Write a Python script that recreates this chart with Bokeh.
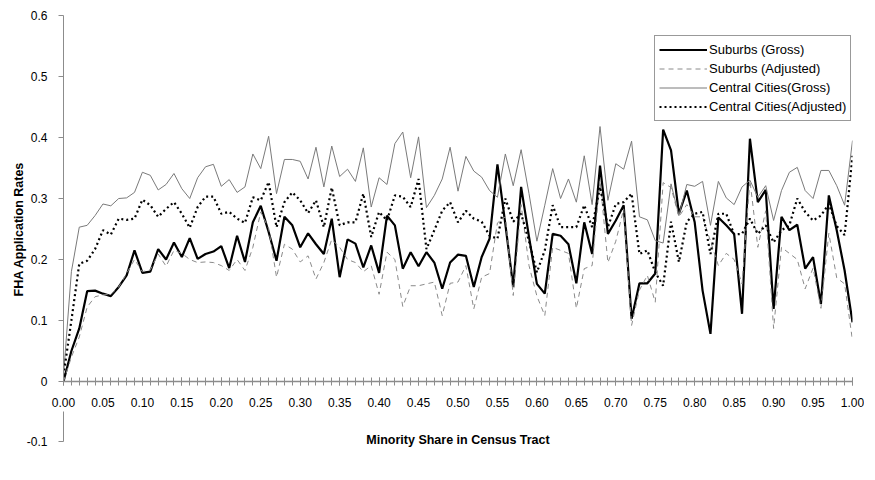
from bokeh.plotting import figure
from bokeh.layouts import column
from bokeh.models import Range1d, FixedTicker, CustomJSTickFormatter, Legend, LegendItem, Label, Title
from bokeh.embed import file_html
from bokeh.resources import INLINE

# categories: minority share 0.00 .. 1.00
categories = [round(i / 100, 2) for i in range(101)]
x_major_ticks = [0.0, 0.05, 0.1, 0.15, 0.2, 0.25, 0.3, 0.35, 0.4, 0.45, 0.5,
                 0.55, 0.6, 0.65, 0.7, 0.75, 0.8, 0.85, 0.9, 0.95, 1.0]
y_ticks = [0, 0.1, 0.2, 0.3, 0.4, 0.5, 0.6]
y_low_tick = [-0.1]

suburbs_gross = [0.0,
    0.05, 0.087, 0.148, 0.149, 0.144, 0.14, 0.155, 0.174, 0.215, 0.178,
    0.18, 0.217, 0.2, 0.228, 0.204, 0.235, 0.201, 0.209, 0.213, 0.222,
    0.186, 0.239, 0.196, 0.261, 0.288, 0.245, 0.198, 0.27, 0.256, 0.22,
    0.243, 0.225, 0.209, 0.267, 0.171, 0.233, 0.226, 0.187, 0.223, 0.178,
    0.272, 0.256, 0.185, 0.212, 0.189, 0.212, 0.195, 0.152, 0.195, 0.208,
    0.206, 0.155, 0.204, 0.234, 0.356, 0.258, 0.155, 0.319, 0.237, 0.16,
    0.144, 0.242, 0.239, 0.225, 0.161, 0.261, 0.209, 0.354, 0.242, 0.264,
    0.289, 0.103, 0.161, 0.161, 0.177, 0.413, 0.379, 0.275, 0.313, 0.261,
    0.149, 0.078, 0.269, 0.256, 0.242, 0.111, 0.398, 0.294, 0.314, 0.119,
    0.27, 0.248, 0.257, 0.185, 0.204, 0.127, 0.305, 0.248, 0.182, 0.097]

suburbs_adjusted = [0.0,
    0.04, 0.073, 0.122, 0.139, 0.142, 0.143, 0.155, 0.177, 0.2, 0.18,
    0.183, 0.209, 0.189, 0.215, 0.21, 0.2, 0.195, 0.196, 0.195, 0.19,
    0.182, 0.2, 0.182, 0.22, 0.278, 0.251, 0.171, 0.225, 0.217, 0.196,
    0.206, 0.168, 0.195, 0.233, 0.22, 0.2, 0.195, 0.18, 0.19, 0.143,
    0.212, 0.2, 0.123, 0.157, 0.157, 0.16, 0.163, 0.108, 0.161, 0.163,
    0.19, 0.119, 0.171, 0.177, 0.26, 0.27, 0.141, 0.29, 0.19, 0.14,
    0.108, 0.22, 0.215, 0.21, 0.12, 0.185, 0.19, 0.33, 0.195, 0.23,
    0.283, 0.092, 0.15, 0.174, 0.13, 0.326, 0.318, 0.27, 0.29, 0.27,
    0.27, 0.23, 0.19, 0.21, 0.2, 0.16, 0.33, 0.22, 0.28, 0.087,
    0.22, 0.21, 0.2, 0.152, 0.186, 0.12, 0.243, 0.17, 0.16, 0.067]

central_gross = [0.01,
    0.18, 0.253, 0.256, 0.272, 0.291, 0.288, 0.3, 0.301, 0.31, 0.343,
    0.338, 0.314, 0.323, 0.341, 0.316, 0.3, 0.334, 0.352, 0.356, 0.32,
    0.331, 0.31, 0.319, 0.373, 0.349, 0.402, 0.308, 0.364, 0.364, 0.361,
    0.332, 0.384, 0.319, 0.386, 0.336, 0.348, 0.328, 0.383, 0.286, 0.334,
    0.323, 0.39, 0.409, 0.334, 0.401, 0.285, 0.305, 0.332, 0.384, 0.312,
    0.369, 0.345, 0.335, 0.313, 0.302, 0.373, 0.321, 0.38, 0.308, 0.23,
    0.289, 0.349, 0.3, 0.332, 0.294, 0.37, 0.29, 0.418, 0.297, 0.357,
    0.348, 0.394, 0.27, 0.265, 0.231, 0.227, 0.324, 0.272, 0.323, 0.32,
    0.328, 0.256, 0.328, 0.301, 0.29, 0.319, 0.33, 0.302, 0.321, 0.264,
    0.313, 0.343, 0.351, 0.313, 0.3, 0.346, 0.346, 0.321, 0.289, 0.395]

central_adjusted = [0.01,
    0.1, 0.193, 0.198, 0.217, 0.248, 0.241, 0.267, 0.265, 0.267, 0.298,
    0.289, 0.27, 0.283, 0.294, 0.275, 0.252, 0.286, 0.303, 0.303, 0.275,
    0.278, 0.267, 0.26, 0.302, 0.297, 0.327, 0.253, 0.294, 0.31, 0.297,
    0.276, 0.297, 0.253, 0.318, 0.256, 0.261, 0.261, 0.308, 0.237, 0.278,
    0.264, 0.305, 0.303, 0.286, 0.332, 0.217, 0.248, 0.28, 0.294, 0.261,
    0.28, 0.267, 0.262, 0.239, 0.234, 0.3, 0.262, 0.275, 0.23, 0.179,
    0.215, 0.289, 0.253, 0.253, 0.253, 0.289, 0.253, 0.319, 0.253, 0.291,
    0.294, 0.308, 0.209, 0.215, 0.179, 0.157, 0.262, 0.196, 0.262, 0.275,
    0.278, 0.209, 0.275, 0.275, 0.241, 0.242, 0.267, 0.242, 0.256, 0.228,
    0.248, 0.256, 0.3, 0.278, 0.264, 0.272, 0.291, 0.255, 0.24, 0.37]

FONT = "Liberation Sans"
AXIS_GRAY = "#8c8c8c"

# ---------- main panel (y from 0 to 0.6, x axis at y = 0) ----------
p = figure(frame_width=789, frame_height=366, output_backend="svg",
           toolbar_location=None, x_range=Range1d(0, 1), y_range=Range1d(0, 0.6),
           min_border_left=63, min_border_right=12, min_border_top=15,
           min_border_bottom=30)
p.outline_line_color = None
p.xgrid.grid_line_color = None
p.ygrid.grid_line_color = None

r1 = p.line(categories, suburbs_gross, line_color="black", line_width=2.2)
r2 = p.line(categories, suburbs_adjusted, line_color="#8a8a8a", line_width=1,
            line_dash="5 4")
r3 = p.line(categories, central_gross, line_color="#7a7a7a", line_width=1)
r4 = p.line(categories, central_adjusted, line_color="black", line_width=2.2,
            line_dash="2 3")

xa = p.xaxis[0]
xa.ticker = FixedTicker(ticks=x_major_ticks, minor_ticks=categories)
xa.formatter = CustomJSTickFormatter(code="return tick.toFixed(2);")
xa.axis_line_color = AXIS_GRAY
xa.axis_line_width = 1.5
xa.major_tick_line_color = AXIS_GRAY
xa.minor_tick_line_color = AXIS_GRAY
xa.major_tick_in = 4
xa.major_tick_out = 4
xa.minor_tick_in = 4
xa.minor_tick_out = 4
xa.major_label_standoff = 12
xa.major_label_text_font = FONT
xa.major_label_text_font_size = "12px"
xa.major_label_text_color = "black"

ya = p.yaxis[0]
ya.ticker = FixedTicker(ticks=y_ticks, minor_ticks=[])
ya.formatter = CustomJSTickFormatter(code="return tick === 0 ? '0' : tick.toFixed(1);")
ya.axis_line_color = AXIS_GRAY
ya.major_tick_line_color = AXIS_GRAY
ya.major_tick_in = 0
ya.major_tick_out = 5
ya.minor_tick_in = 0
ya.minor_tick_out = 0
ya.major_label_standoff = 11
ya.major_label_text_font = FONT
ya.major_label_text_font_size = "12px"
ya.major_label_text_color = "black"

p.add_layout(Title(text="FHA Application Rates", align="left", offset=85,
                   text_font=FONT, text_font_style="bold", text_font_size="12.5px",
                   text_color="black", standoff=4), "left")

legend = Legend(items=[
    LegendItem(label="Suburbs (Gross)", renderers=[r1]),
    LegendItem(label="Suburbs (Adjusted)", renderers=[r2]),
    LegendItem(label="Central Cities(Gross)", renderers=[r3]),
    LegendItem(label="Central Cities(Adjusted)", renderers=[r4]),
], location=(591, 260))
legend.label_text_font = FONT
legend.label_text_font_size = "13px"
legend.label_text_color = "black"
legend.glyph_width = 48
legend.glyph_height = 19
legend.label_height = 19
legend.label_standoff = 2
legend.spacing = 0
legend.padding = 4
legend.margin = 0
legend.border_line_color = "#333333"
legend.border_line_width = 1
legend.background_fill_color = "white"
legend.background_fill_alpha = 1
p.add_layout(legend)

# ---------- lower strip: y axis continued down to -0.1, x axis title ----------
q = figure(frame_width=789, frame_height=37, output_backend="svg",
           toolbar_location=None, x_range=p.x_range,
           y_range=Range1d(-0.1115, -0.0508), x_axis_location=None,
           min_border_left=63, min_border_right=12, min_border_top=0,
           min_border_bottom=0)
q.outline_line_color = None
q.xgrid.grid_line_color = None
q.ygrid.grid_line_color = None
qa = q.yaxis[0]
qa.ticker = FixedTicker(ticks=y_low_tick, minor_ticks=[])
qa.formatter = CustomJSTickFormatter(code="return tick.toFixed(1);")
qa.bounds = (-0.1, 0)
qa.axis_line_color = AXIS_GRAY
qa.major_tick_line_color = AXIS_GRAY
qa.major_tick_in = 0
qa.major_tick_out = 5
qa.minor_tick_in = 0
qa.minor_tick_out = 0
qa.major_label_standoff = 11
qa.major_label_text_font = FONT
qa.major_label_text_font_size = "12px"
qa.major_label_text_color = "black"

q.add_layout(Label(x=0.5, y=-0.097, text="Minority Share in Census Tract",
                   text_font=FONT, text_font_style="bold", text_font_size="12.5px",
                   text_align="center", text_baseline="middle", text_color="black"))

layout = column(p, q, spacing=0)
open("out.html", "w").write(file_html(layout, INLINE))
